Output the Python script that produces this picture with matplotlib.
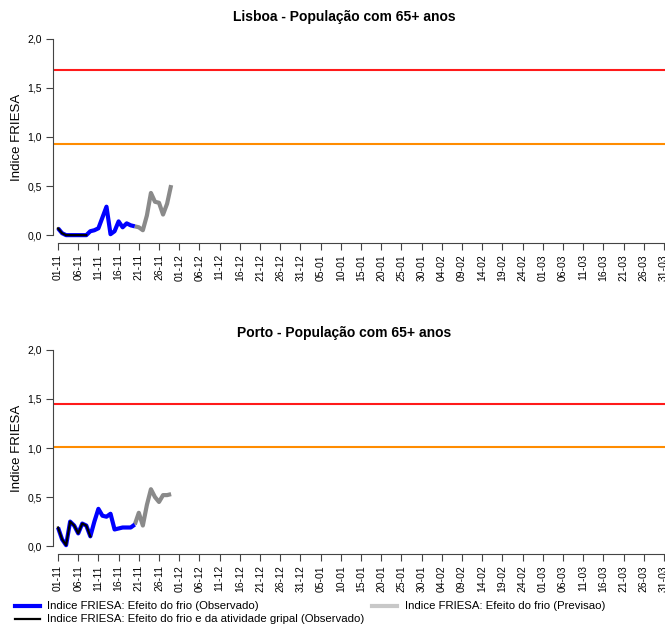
import matplotlib
matplotlib.use("Agg")
import matplotlib.pyplot as plt
from matplotlib.lines import Line2D

plt.rcParams['font.family'] = ['Liberation Sans', 'DejaVu Sans']

# ---- data ----
tick_labels = ["01-11", "06-11", "11-11", "16-11", "21-11", "26-11", "01-12", "06-12",
               "11-12", "16-12", "21-12", "26-12", "31-12", "05-01", "10-01", "15-01",
               "20-01", "25-01", "30-01", "04-02", "09-02", "14-02", "19-02", "24-02",
               "01-03", "06-03", "11-03", "16-03", "21-03", "26-03", "31-03"]
tick_days = [5 * i for i in range(len(tick_labels))]

titles = ["Lisboa - População com 65+ anos", "Porto - População com 65+ anos"]

# Lisboa
lis_obs_days = list(range(0, 20))
lis_obs = [0.07, 0.02, 0.0, 0.0, 0.0, 0.0, 0.0, 0.0, 0.04, 0.05,
           0.07, 0.18, 0.29, 0.01, 0.04, 0.14, 0.08, 0.12, 0.10, 0.09]
lis_flu_days = list(range(0, 8))
lis_flu = [0.07, 0.02, 0.0, 0.0, 0.0, 0.0, 0.0, 0.0]
lis_prev_days = list(range(19, 29))
lis_prev = [0.09, 0.08, 0.05, 0.20, 0.43, 0.34, 0.33, 0.21, 0.32, 0.51]
lis_red, lis_orange = 1.68, 0.93

# Porto
por_obs_days = list(range(0, 20))
por_obs = [0.19, 0.07, 0.01, 0.25, 0.21, 0.13, 0.23, 0.21, 0.10, 0.25,
           0.38, 0.31, 0.30, 0.33, 0.17, 0.18, 0.19, 0.19, 0.19, 0.22]
por_flu_days = list(range(0, 9))
por_flu = [0.19, 0.07, 0.01, 0.25, 0.21, 0.13, 0.23, 0.21, 0.10]
por_prev_days = list(range(19, 29))
por_prev = [0.22, 0.34, 0.21, 0.42, 0.58, 0.50, 0.45, 0.52, 0.52, 0.53]
por_red, por_orange = 1.45, 1.01

legend_labels = ["Indice FRIESA: Efeito do frio (Observado)",
                 "Indice FRIESA: Efeito do frio (Previsao)",
                 "Indice FRIESA: Efeito do frio e da atividade gripal (Observado)"]

W, H = 665, 626
fig = plt.figure(figsize=(W / 100, H / 100), dpi=100)

def make_axes(top_px, bottom_px):
    return fig.add_axes([53 / W, (H - bottom_px) / H, (W - 53) / W + 0.01,
                         (bottom_px - top_px) / H])

panels = [
    (make_axes(31, 243), titles[0], lis_obs_days, lis_obs, lis_flu_days, lis_flu,
     lis_prev_days, lis_prev, lis_red, lis_orange, 17),
    (make_axes(342, 554), titles[1], por_obs_days, por_obs, por_flu_days, por_flu,
     por_prev_days, por_prev, por_red, por_orange, 333),
]

for ax, title, od, ov, fd, fv, pd_, pv, red, orange, ty in panels:
    ax.axhline(red, color="#ff1a1a", lw=1.5)
    ax.axhline(orange, color="#ff8c00", lw=1.5)
    ax.plot(pd_, pv, color="#8a8a8a", lw=3.0, solid_capstyle="butt")
    ax.plot(od, ov, color="#0000ff", lw=3.0, solid_capstyle="butt")
    ax.plot(fd, fv, color="black", lw=1.6)
    ax.set_xlim(-1.24, 151.9)
    ax.set_ylim(-0.08, 2.08)
    for s in ["top", "right"]:
        ax.spines[s].set_visible(False)
    ax.spines["left"].set_bounds(0, 2)
    ax.spines["bottom"].set_bounds(0, 160)
    ax.spines["left"].set_color("#444444")
    ax.spines["bottom"].set_color("#444444")
    ax.set_yticks([0, 0.5, 1.0, 1.5, 2.0])
    ax.set_yticklabels(["0,0", "0,5", "1,0", "1,5", "2,0"], fontsize=7.5)
    ax.set_xticks(tick_days)
    ax.set_xticklabels(tick_labels, rotation=90, fontsize=7.5)
    ax.tick_params(length=5, color="#444444", pad=3)
    ax.set_ylabel("Indice FRIESA", fontsize=9.5, labelpad=3)
    fig.text(344 / W, 1 - ty / H, title, ha="center", va="center",
             fontsize=10, fontweight="bold")

# legend
fig.add_artist(Line2D([15 / W, 40 / W], [1 - 606 / H] * 2, color="#0000ff", lw=3))
fig.text(47 / W, 1 - 606 / H, legend_labels[0], fontsize=8.2, va="center")
fig.add_artist(Line2D([372 / W, 397 / W], [1 - 606 / H] * 2, color="#c8c8c8", lw=3))
fig.text(405 / W, 1 - 606 / H, legend_labels[1], fontsize=8.2, va="center")
fig.add_artist(Line2D([15 / W, 40 / W], [1 - 619 / H] * 2, color="black", lw=1.6))
fig.text(47 / W, 1 - 619 / H, legend_labels[2], fontsize=8.2, va="center")

fig.savefig("out.png", dpi=100)
